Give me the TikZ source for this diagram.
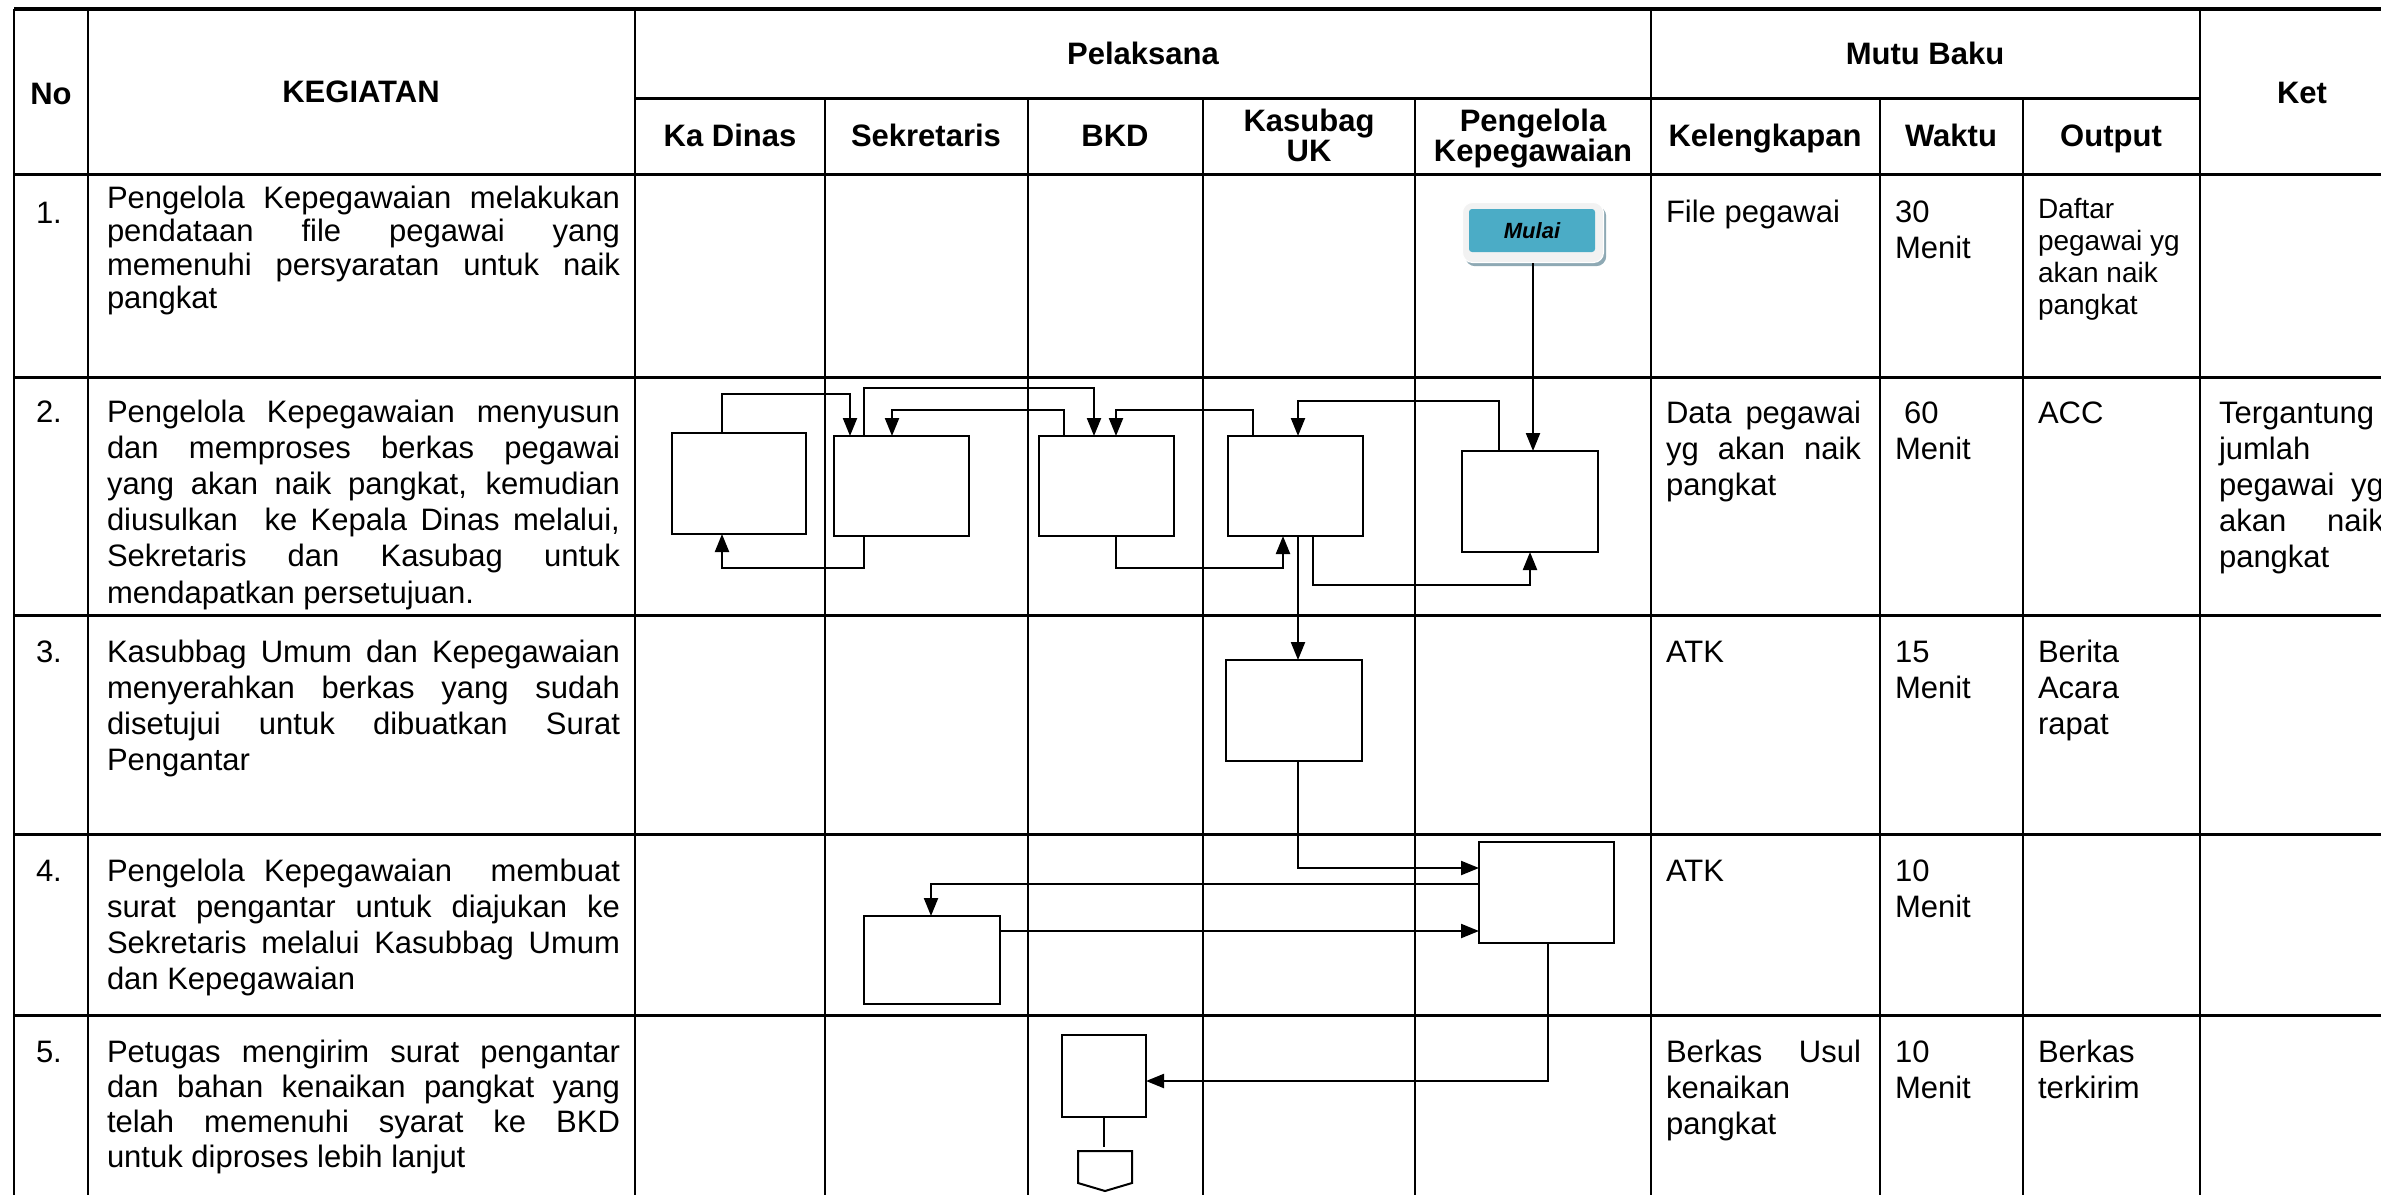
\documentclass[tikz,border=0pt]{standalone}
\usepackage{fontspec}
\setmainfont{Liberation Sans}
\usetikzlibrary{arrows.meta,calc}
\definecolor{aquab}{HTML}{4BACC6}
\definecolor{shadowb}{HTML}{8EA9B4}
\definecolor{btnface}{HTML}{F2F2F2}
\newcommand{\jln}[1]{\hbox to \linewidth{#1}}
\newcommand{\nln}[1]{\hbox{#1}}
\newcommand{\txtblock}[3]{\parbox[t]{#1}{\baselineskip=#2\relax #3}}
\begin{document}
\begin{tikzpicture}[x=1pt,y=-1pt,
  hl/.style={line width=3pt},
  vl/.style={line width=2.2pt},
  box/.style={draw, line width=2.4pt, inner sep=0, outer sep=0, anchor=north west},
  conn/.style={line width=2.2pt, -{Triangle[length=18pt,width=14pt]}},
  plainconn/.style={line width=2.2pt},
  txt/.style={anchor=base west, inner sep=0, outer sep=0, font=\fontsize{31}{36}\selectfont},
  smalltxt/.style={anchor=base west, inner sep=0, outer sep=0, font=\fontsize{28}{32}\selectfont},
  hd/.style={anchor=base, inner sep=0, outer sep=0, font=\fontsize{31}{36}\selectfont\bfseries},
]
\useasboundingbox (0,0) rectangle (2381,1194);
\fill[white] (0,0) rectangle (2381,1194);
\begin{scope}
\clip (0,0) rectangle (2381,1194);
% ---- table grid
\draw[hl, line width=3.5pt] (14,9) -- (2420,9);
\draw[hl] (635,98) -- (2200,98);
\draw[hl] (14,174) -- (2420,174);
\foreach \yy in {377,615,834,1015} \draw[hl] (14,\yy) -- (2420,\yy);
\foreach \xx in {14,88,635,1651,2200} \draw[vl] (\xx,9) -- (\xx,1210);
\foreach \xx in {825,1028,1203,1415,1880,2023} \draw[vl] (\xx,98) -- (\xx,1210);

% ---- headers
\node[hd] (hNo) at (51,104) {No};
\node[hd] (hKeg) at (361,102) {KEGIATAN};
\node[hd] (hPel) at (1143,64) {Pelaksana};
\node[hd] (hMutu) at (1925,64) {Mutu Baku};
\node[hd] (hKet) at (2302,103) {Ket};
\node[hd] (hKa) at (730,146) {Ka Dinas};
\node[hd] (hSek) at (926,146) {Sekretaris};
\node[hd] (hBkd) at (1115,146) {BKD};
\node[hd] (hKasA) at (1309,131) {Kasubag};
\node[hd] (hKasB) at (1309,161) {UK};
\node[hd] (hPenA) at (1533,131) {Pengelola};
\node[hd] (hPenB) at (1533,161) {Kepegawaian};
\node[hd] (hKel) at (1765,146) {Kelengkapan};
\node[hd] (hWak) at (1951,146) {Waktu};
\node[hd] (hOut) at (2111,146) {Output};

% ---- numbers
\node[txt] (n1) at (36,223) {1.};
\node[txt] (n2) at (36,422) {2.};
\node[txt] (n3) at (36,662) {3.};
\node[txt] (n4) at (36,881) {4.};
\node[txt] (n5) at (36,1062) {5.};

% ---- kegiatan
\node[txt] (k1) at (107,208) {\txtblock{513pt}{33.5pt}{%
\jln{Pengelola Kepegawaian melakukan}\jln{pendataan file pegawai yang}%
\jln{memenuhi persyaratan untuk naik}\nln{pangkat}}};
\node[txt] (k2) at (107,422) {\txtblock{513pt}{36.2pt}{%
\jln{Pengelola Kepegawaian menyusun}\jln{dan memproses berkas pegawai}%
\jln{yang akan naik pangkat, kemudian}\jln{diusulkan\ \ ke Kepala Dinas melalui,}%
\jln{Sekretaris dan Kasubag untuk}\nln{mendapatkan persetujuan.}}};
\node[txt] (k3) at (107,662) {\txtblock{513pt}{36pt}{%
\jln{Kasubbag Umum dan Kepegawaian}\jln{menyerahkan berkas yang sudah}%
\jln{disetujui untuk dibuatkan Surat}\nln{Pengantar}}};
\node[txt] (k4) at (107,881) {\txtblock{513pt}{36pt}{%
\jln{Pengelola Kepegawaian\ \ membuat}\jln{surat pengantar untuk diajukan ke}%
\jln{Sekretaris melalui Kasubbag Umum}\nln{dan Kepegawaian}}};
\node[txt] (k5) at (107,1062) {\txtblock{513pt}{35pt}{%
\jln{Petugas mengirim surat pengantar}\jln{dan bahan kenaikan pangkat yang}%
\jln{telah memenuhi syarat ke BKD}\nln{untuk diproses lebih lanjut}}};

% ---- kelengkapan
\node[txt] (l1) at (1666,222) {File pegawai};
\node[txt] (l2) at (1666,423) {\txtblock{195pt}{36pt}{\jln{Data pegawai}\jln{yg akan naik}\nln{pangkat}}};
\node[txt] (l3) at (1666,662) {ATK};
\node[txt] (l4) at (1666,881) {ATK};
\node[txt] (l5) at (1666,1062) {\txtblock{195pt}{36pt}{\jln{Berkas Usul}\nln{kenaikan}\nln{pangkat}}};

% ---- waktu
\node[txt] (w1) at (1895,222) {\txtblock{110pt}{36pt}{\nln{30}\nln{Menit}}};
\node[txt] (w2a) at (1904,423) {60};
\node[txt] (w2b) at (1895,459) {Menit};
\node[txt] (w3) at (1895,662) {\txtblock{110pt}{36pt}{\nln{15}\nln{Menit}}};
\node[txt] (w4) at (1895,881) {\txtblock{110pt}{36pt}{\nln{10}\nln{Menit}}};
\node[txt] (w5) at (1895,1062) {\txtblock{110pt}{36pt}{\nln{10}\nln{Menit}}};

% ---- output
\node[smalltxt] (o1) at (2038,218) {\txtblock{150pt}{32.3pt}{\nln{Daftar}\nln{pegawai yg}\nln{akan naik}\nln{pangkat}}};
\node[txt] (o2) at (2038,423) {ACC};
\node[txt] (o3) at (2038,662) {\txtblock{150pt}{36pt}{\nln{Berita}\nln{Acara}\nln{rapat}}};
\node[txt] (o5) at (2038,1062) {\txtblock{150pt}{36pt}{\nln{Berkas}\nln{terkirim}}};

% ---- ket
\node[txt] (t2) at (2219,423) {\txtblock{165pt}{36pt}{\nln{Tergantung}\nln{jumlah}\jln{pegawai yg}\jln{akan naik}\nln{pangkat}}};

% ---- Mulai button
\node[fill=shadowb, rounded corners=10pt, minimum width=141pt, minimum height=60pt, inner sep=0, anchor=north west] (mulaish) at (1465,206) {};
\node[fill=btnface, draw=white, line width=1pt, rounded corners=10pt, minimum width=141pt, minimum height=60pt, inner sep=0, anchor=north west] (mulai) at (1462,202) {};
\node[fill=aquab, rounded corners=3pt, minimum width=126pt, minimum height=43pt, inner sep=0, font=\fontsize{22}{26}\selectfont\bfseries\itshape] (mulaiin) at (1532,230.5) {Mulai};

% ---- process boxes
\node[box, minimum width=134pt, minimum height=101pt] (bA) at (672,433) {};
\node[box, minimum width=135pt, minimum height=100pt] (bB) at (834,436) {};
\node[box, minimum width=135pt, minimum height=100pt] (bC) at (1039,436) {};
\node[box, minimum width=135pt, minimum height=100pt] (bD) at (1228,436) {};
\node[box, minimum width=136pt, minimum height=101pt] (bE) at (1462,451) {};
\node[box, minimum width=136pt, minimum height=101pt] (bR3) at (1226,660) {};
\node[box, minimum width=135pt, minimum height=101pt] (bF) at (1479,842) {};
\node[box, minimum width=136pt, minimum height=88pt] (bG) at (864,916) {};
\node[box, minimum width=84pt, minimum height=82pt] (bH) at (1062,1035) {};
% off-page connector
\draw[line width=2pt, line join=miter] (1078,1151) -- (1132,1151) -- (1132,1183) -- (1105,1191) -- (1078,1183) -- cycle;
\coordinate (pent) at (1105,1151);

% ---- connectors
\draw[conn] (mulai.south) -- (mulai.south |- bE.north);
\draw[conn] ([xshift=50pt]bA.north west) |- ([xshift=16pt,yshift=42pt]bB.north west) -- ([xshift=16pt]bB.north west);
\draw[conn] ([xshift=30pt]bB.north west) |- ([xshift=55pt,yshift=48pt]bC.north west) -- ([xshift=55pt]bC.north west);
\draw[conn] ([xshift=25pt]bC.north west) |- ([xshift=58pt,yshift=26pt]bB.north west) -- ([xshift=58pt]bB.north west);
\draw[conn] ([xshift=25pt]bD.north west) |- ([xshift=77pt,yshift=26pt]bC.north west) -- ([xshift=77pt]bC.north west);
\draw[conn] ([xshift=37pt]bE.north west) |- ([xshift=70pt,yshift=35pt]bD.north west) -- ([xshift=70pt]bD.north west);
\draw[conn] ([xshift=30pt]bB.south west) |- ([xshift=50pt,yshift=-34pt]bA.south west) -- ([xshift=50pt]bA.south west);
\draw[conn] ([xshift=77pt]bC.south west) |- ([xshift=55pt,yshift=-32pt]bD.south west) -- ([xshift=55pt]bD.south west);
\draw[conn] ([xshift=85pt]bD.south west) |- ([xshift=68pt,yshift=-33pt]bE.south west) -- ([xshift=68pt]bE.south west);
\draw[conn] ([xshift=70pt]bD.south west) -- ([xshift=72pt]bR3.north west);
\draw[conn] ([xshift=72pt]bR3.south west) |- ([yshift=-26pt]bF.north west);
\draw[conn] ([yshift=-42pt]bF.north west) -| ([xshift=67pt]bG.north west);
\draw[conn] ([yshift=-15pt]bG.north east) -- ([yshift=-89pt]bF.north west);
\draw[conn] ([xshift=69pt]bF.south west) |- ([yshift=-46pt]bH.north east);
\draw[plainconn] (bH.south) -- ([xshift=-1pt,yshift=4pt]pent);
\end{scope}
\end{tikzpicture}
\end{document}
